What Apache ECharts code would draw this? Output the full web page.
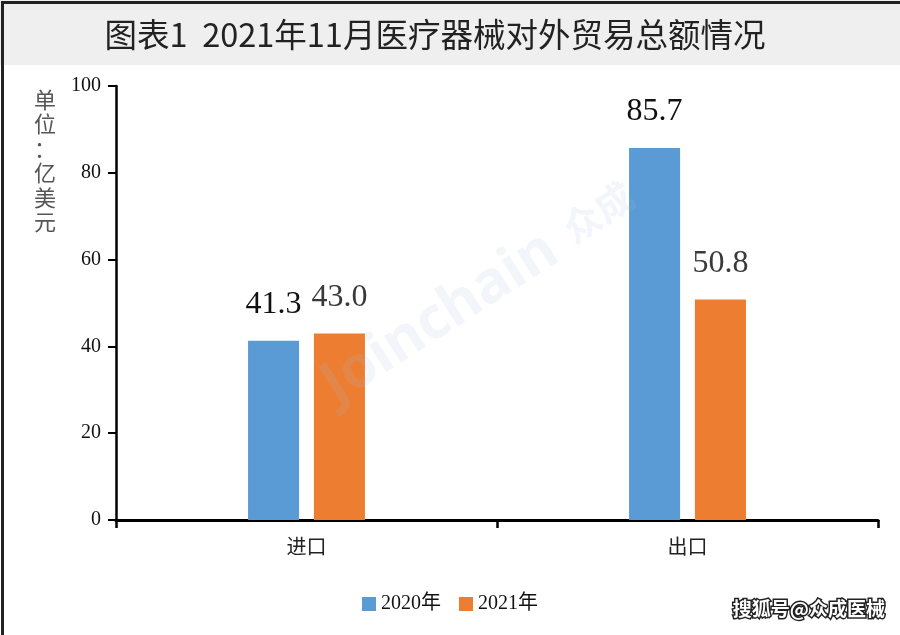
<!DOCTYPE html>
<html>
<head>
<meta charset="utf-8">
<script src="https://cdn.jsdelivr.net/npm/echarts@6/dist/echarts.min.js"></script>
<style>
html,body{margin:0;padding:0;background:#fff;}
#main{width:900px;height:635px;}
</style>
</head>
<body>
<div id="main"></div>
<script>
var categories = ['进口', '出口'];
var seriesNames = ['2020年', '2021年'];
var values2020 = [41.3, 85.7];
var values2021 = [43.0, 50.8];
var yTicks = [0, 20, 40, 60, 80, 100];

var BAR_W = 0.134;   // fraction of band
var BAR_GAP = 0.29;  // fraction of bar width

function labelSeries(name, values, side, color) {
  return {
    type: 'custom',
    name: name,
    silent: true,
    clip: false,
    z: 5,
    data: values.map(function (v, i) { return [i, v]; }),
    renderItem: function (params, api) {
      var pt = api.coord([api.value(0), api.value(1)]);
      var band = api.size([1, 0])[0];
      var bw = band * BAR_W;
      var off = side * (bw + bw * BAR_GAP) / 2;
      return {
        type: 'text',
        x: pt[0] + off,
        y: pt[1] - 36,
        style: {
          text: api.value(1).toFixed(1),
          font: '32px "Liberation Serif", "Times New Roman", serif',
          fill: color,
          align: 'center',
          verticalAlign: 'middle'
        }
      };
    }
  };
}

var chart = echarts.init(document.getElementById('main'), null, {renderer: 'canvas'});
chart.setOption({
  backgroundColor: '#ffffff',
  animation: false,
  grid: {left: 116, right: 22, top: 86, bottom: 115, containLabel: false},
  legend: {
    data: seriesNames,
    left: 'center',
    top: 589,
    icon: 'rect',
    itemWidth: 14,
    itemHeight: 14,
    itemGap: 18,
    textStyle: {fontFamily: '"Liberation Serif", "Noto Sans CJK SC", serif', fontSize: 20, color: '#111'}
  },
  xAxis: {
    type: 'category',
    data: categories,
    axisLine: {lineStyle: {color: '#000', width: 3}},
    axisTick: {show: true, length: 8, lineStyle: {color: '#000', width: 2.5}},
    axisLabel: {margin: 16, fontFamily: '"Noto Sans CJK SC", sans-serif', fontSize: 20, color: '#222'}
  },
  yAxis: {
    type: 'value',
    min: yTicks[0],
    max: yTicks[yTicks.length - 1],
    interval: yTicks[1] - yTicks[0],
    axisLine: {show: true, lineStyle: {color: '#000', width: 2.5}},
    axisTick: {show: true, length: 8, lineStyle: {color: '#000', width: 2}},
    splitLine: {show: false},
    axisLabel: {margin: 15, fontFamily: '"Liberation Serif", "Times New Roman", serif', fontSize: 20, color: '#111'}
  },
  series: [
    {type: 'bar', name: seriesNames[0], data: values2020, barWidth: (BAR_W * 100) + '%', barGap: (BAR_GAP * 100) + '%', itemStyle: {color: '#5B9BD5'}},
    {type: 'bar', name: seriesNames[1], data: values2021, barWidth: (BAR_W * 100) + '%', barGap: (BAR_GAP * 100) + '%', itemStyle: {color: '#ED7D31'}},
    labelSeries('lab2020', values2020, -1, '#111111'),
    labelSeries('lab2021', values2021, 1, '#3a3a3a')
  ],
  graphic: [
    {type: 'rect', left: 0, top: 0, z: -10, shape: {width: 900, height: 65}, style: {fill: '#efefef'}},
    {type: 'text', x: 435, y: 35, z: 10, style: {text: '图表1  2021年11月医疗器械对外贸易总额情况', font: '32.5px "Noto Sans CJK SC", sans-serif', fill: '#222', align: 'center', verticalAlign: 'middle'}},
    {type: 'text', x: 45, y: 87, z: 10, style: {text: '单\n位\n：\n亿\n美\n元', font: '22px "Noto Sans CJK SC", sans-serif', lineHeight: 24.5, fill: '#555', align: 'center', verticalAlign: 'top'}},
    {type: 'text', x: 440, y: 318, rotation: 0.57, z: 20, silent: true, style: {text: 'Joinchain', font: 'bold 58px "Noto Sans", sans-serif', fill: 'rgba(170,190,215,0.15)', align: 'center', verticalAlign: 'middle'}},
    {type: 'text', x: 598, y: 212, rotation: 0.57, z: 20, silent: true, style: {text: '众成', font: 'bold 38px "Noto Sans CJK SC", sans-serif', fill: 'rgba(170,190,215,0.15)', align: 'center', verticalAlign: 'middle'}},
    {type: 'text', x: 885, y: 609, z: 30, style: {text: '搜狐号@众成医械', font: 'bold 19px "Noto Sans CJK SC", sans-serif', fill: '#ffffff', stroke: '#222', lineWidth: 3, align: 'right', verticalAlign: 'middle'}},
    {type: 'rect', left: 0, top: 0, z: 40, shape: {width: 900, height: 635}, style: {fill: 'none', stroke: '#222', lineWidth: 3}}
  ]
});
</script>
</body>
</html>
